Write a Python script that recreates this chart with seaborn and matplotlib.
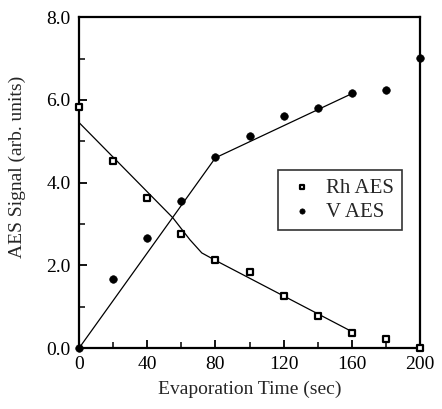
import numpy as np
import pandas as pd
import seaborn as sns
import matplotlib.pyplot as plt
from matplotlib.ticker import MultipleLocator, FormatStrFormatter

# measured points
time = [0, 20, 40, 60, 80, 100, 120, 140, 160, 180, 200]
rh_aes = [5.82, 4.52, 3.63, 2.75, 2.12, 1.85, 1.26, 0.78, 0.36, 0.23, 0.0]
v_aes = [0.0, 1.67, 2.65, 3.55, 4.62, 5.13, 5.6, 5.8, 6.17, 6.25, 7.02]

# guide lines drawn through the data
rh_line_t = [0, 55, 65, 72, 80, 160]
rh_line_y = [5.45, 3.15, 2.62, 2.3, 2.12, 0.4]
v_line_t = [0, 80, 160]
v_line_y = [0.0, 4.6, 6.15]

sns.set_theme(style="ticks")
plt.rcParams['font.family'] = ['Liberation Serif', 'DejaVu Serif']

fig = plt.figure(figsize=(4.42, 4.09), dpi=100)
ax = fig.add_axes([0.179, 0.149, 0.771, 0.809])

sns.lineplot(x=rh_line_t, y=rh_line_y, ax=ax, color="black", linewidth=0.9, sort=False)
sns.lineplot(x=v_line_t, y=v_line_y, ax=ax, color="black", linewidth=0.9, sort=False)

df = pd.DataFrame({"t": time * 2,
                   "signal": rh_aes + v_aes,
                   "series": ["Rh AES"] * len(time) + ["V AES"] * len(time)})
sns.scatterplot(data=df[df.series == "Rh AES"], x="t", y="signal", ax=ax,
                marker="s", s=22, facecolor="white", edgecolor="black",
                linewidth=1.6, label="Rh AES", clip_on=False, zorder=5)
sns.scatterplot(data=df[df.series == "V AES"], x="t", y="signal", ax=ax,
                marker="o", s=30, color="black", edgecolor="black",
                label="V AES", clip_on=False, zorder=5)

ax.set_xlim(0, 200)
ax.set_ylim(0, 8)
ax.xaxis.set_major_locator(MultipleLocator(40))
ax.xaxis.set_minor_locator(MultipleLocator(20))
ax.yaxis.set_major_locator(MultipleLocator(2))
ax.yaxis.set_minor_locator(MultipleLocator(1))
ax.yaxis.set_major_formatter(FormatStrFormatter("%.1f"))
ax.tick_params(which="major", direction="in", length=6, width=1.3,
               labelsize=14, colors="black", pad=6)
ax.tick_params(which="minor", direction="in", length=4, width=1.3)
for s in ax.spines.values():
    s.set_visible(True)
    s.set_linewidth(1.6)
    s.set_color("black")

ax.set_xlabel("Evaporation Time (sec)", fontsize=14, labelpad=5)
ax.set_ylabel("AES Signal (arb. units)", fontsize=14)
ax.yaxis.set_label_coords(-0.155, 0.547)

leg = ax.legend(loc="upper left", bbox_to_anchor=(0.584, 0.538), fontsize=15,
                frameon=True, fancybox=False, edgecolor="black",
                borderaxespad=0, handletextpad=0.4, borderpad=0.4,
                labelspacing=0.2, markerscale=0.7, handlelength=1.5)
leg.get_frame().set_linewidth(1.2)

fig.savefig("out.png", dpi=100)
